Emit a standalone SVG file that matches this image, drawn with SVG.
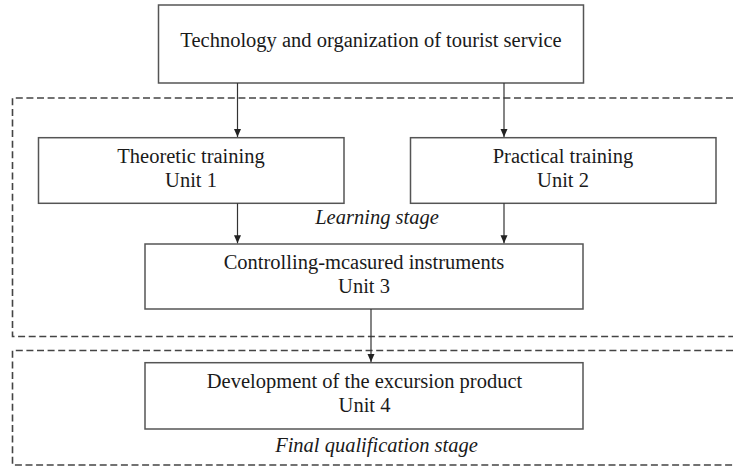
<svg xmlns="http://www.w3.org/2000/svg" width="733" height="466" viewBox="0 0 733 466">
<style>
.box{fill:#fff;stroke:#555;stroke-width:1.5}
.t{font-family:"Liberation Serif","Times New Roman",serif;font-size:20.5px;fill:#1a1a1a;text-anchor:middle}
.i{font-style:italic}
.stage{fill:none;stroke:#444;stroke-width:1.6;stroke-dasharray:7 3.6}
.con{fill:none;stroke:#333;stroke-width:1.2}
</style>
<defs>
<marker id="ad" markerUnits="userSpaceOnUse" markerWidth="9" markerHeight="8" refX="8" refY="4" orient="auto" viewBox="0 0 9 8">
<path d="M0,0.5 L8,4 L0,7.5 Z" fill="#222"/>
</marker>
</defs>
<rect width="733" height="466" fill="#fff"/>
<g id="learning-stage">
<path class="stage" d="M733,98 H12.5 V336.5 H733"/>
<text class="t i" x="377" y="224">Learning stage</text>
</g>
<g id="final-stage">
<path class="stage" d="M733,350.5 H12.5 V465 H733"/>
<text class="t i" x="376.5" y="452">Final qualification stage</text>
</g>
<g id="tech">
<rect class="box" x="158.5" y="5" width="425" height="78"/>
<text class="t" x="371" y="47">Technology and organization of tourist service</text>
</g>
<g id="unit1">
<rect class="box" x="38.5" y="137.7" width="305.5" height="65.6"/>
<text class="t" x="191" y="163">Theoretic training</text>
<text class="t" x="191" y="187">Unit 1</text>
</g>
<g id="unit2">
<rect class="box" x="410.5" y="137.7" width="305.5" height="65.6"/>
<text class="t" x="563" y="163">Practical training</text>
<text class="t" x="563" y="187">Unit 2</text>
</g>
<g id="unit3">
<rect class="box" x="145" y="244" width="438" height="65"/>
<text class="t" x="364" y="269">Controlling-mcasured instruments</text>
<text class="t" x="364" y="293">Unit 3</text>
</g>
<g id="unit4">
<rect class="box" x="145" y="362.7" width="438" height="66.3"/>
<text class="t" x="364.5" y="388">Development of the excursion product</text>
<text class="t" x="364.5" y="412">Unit 4</text>
</g>
<g id="connectors">
<path class="con" d="M237.5,83 V137" marker-end="url(#ad)"/>
<path class="con" d="M504,83 V137" marker-end="url(#ad)"/>
<path class="con" d="M237.5,203.3 V243.3" marker-end="url(#ad)"/>
<path class="con" d="M504,203.3 V243.3" marker-end="url(#ad)"/>
<path class="con" d="M371,309 V362" marker-end="url(#ad)"/>
</g>
</svg>
